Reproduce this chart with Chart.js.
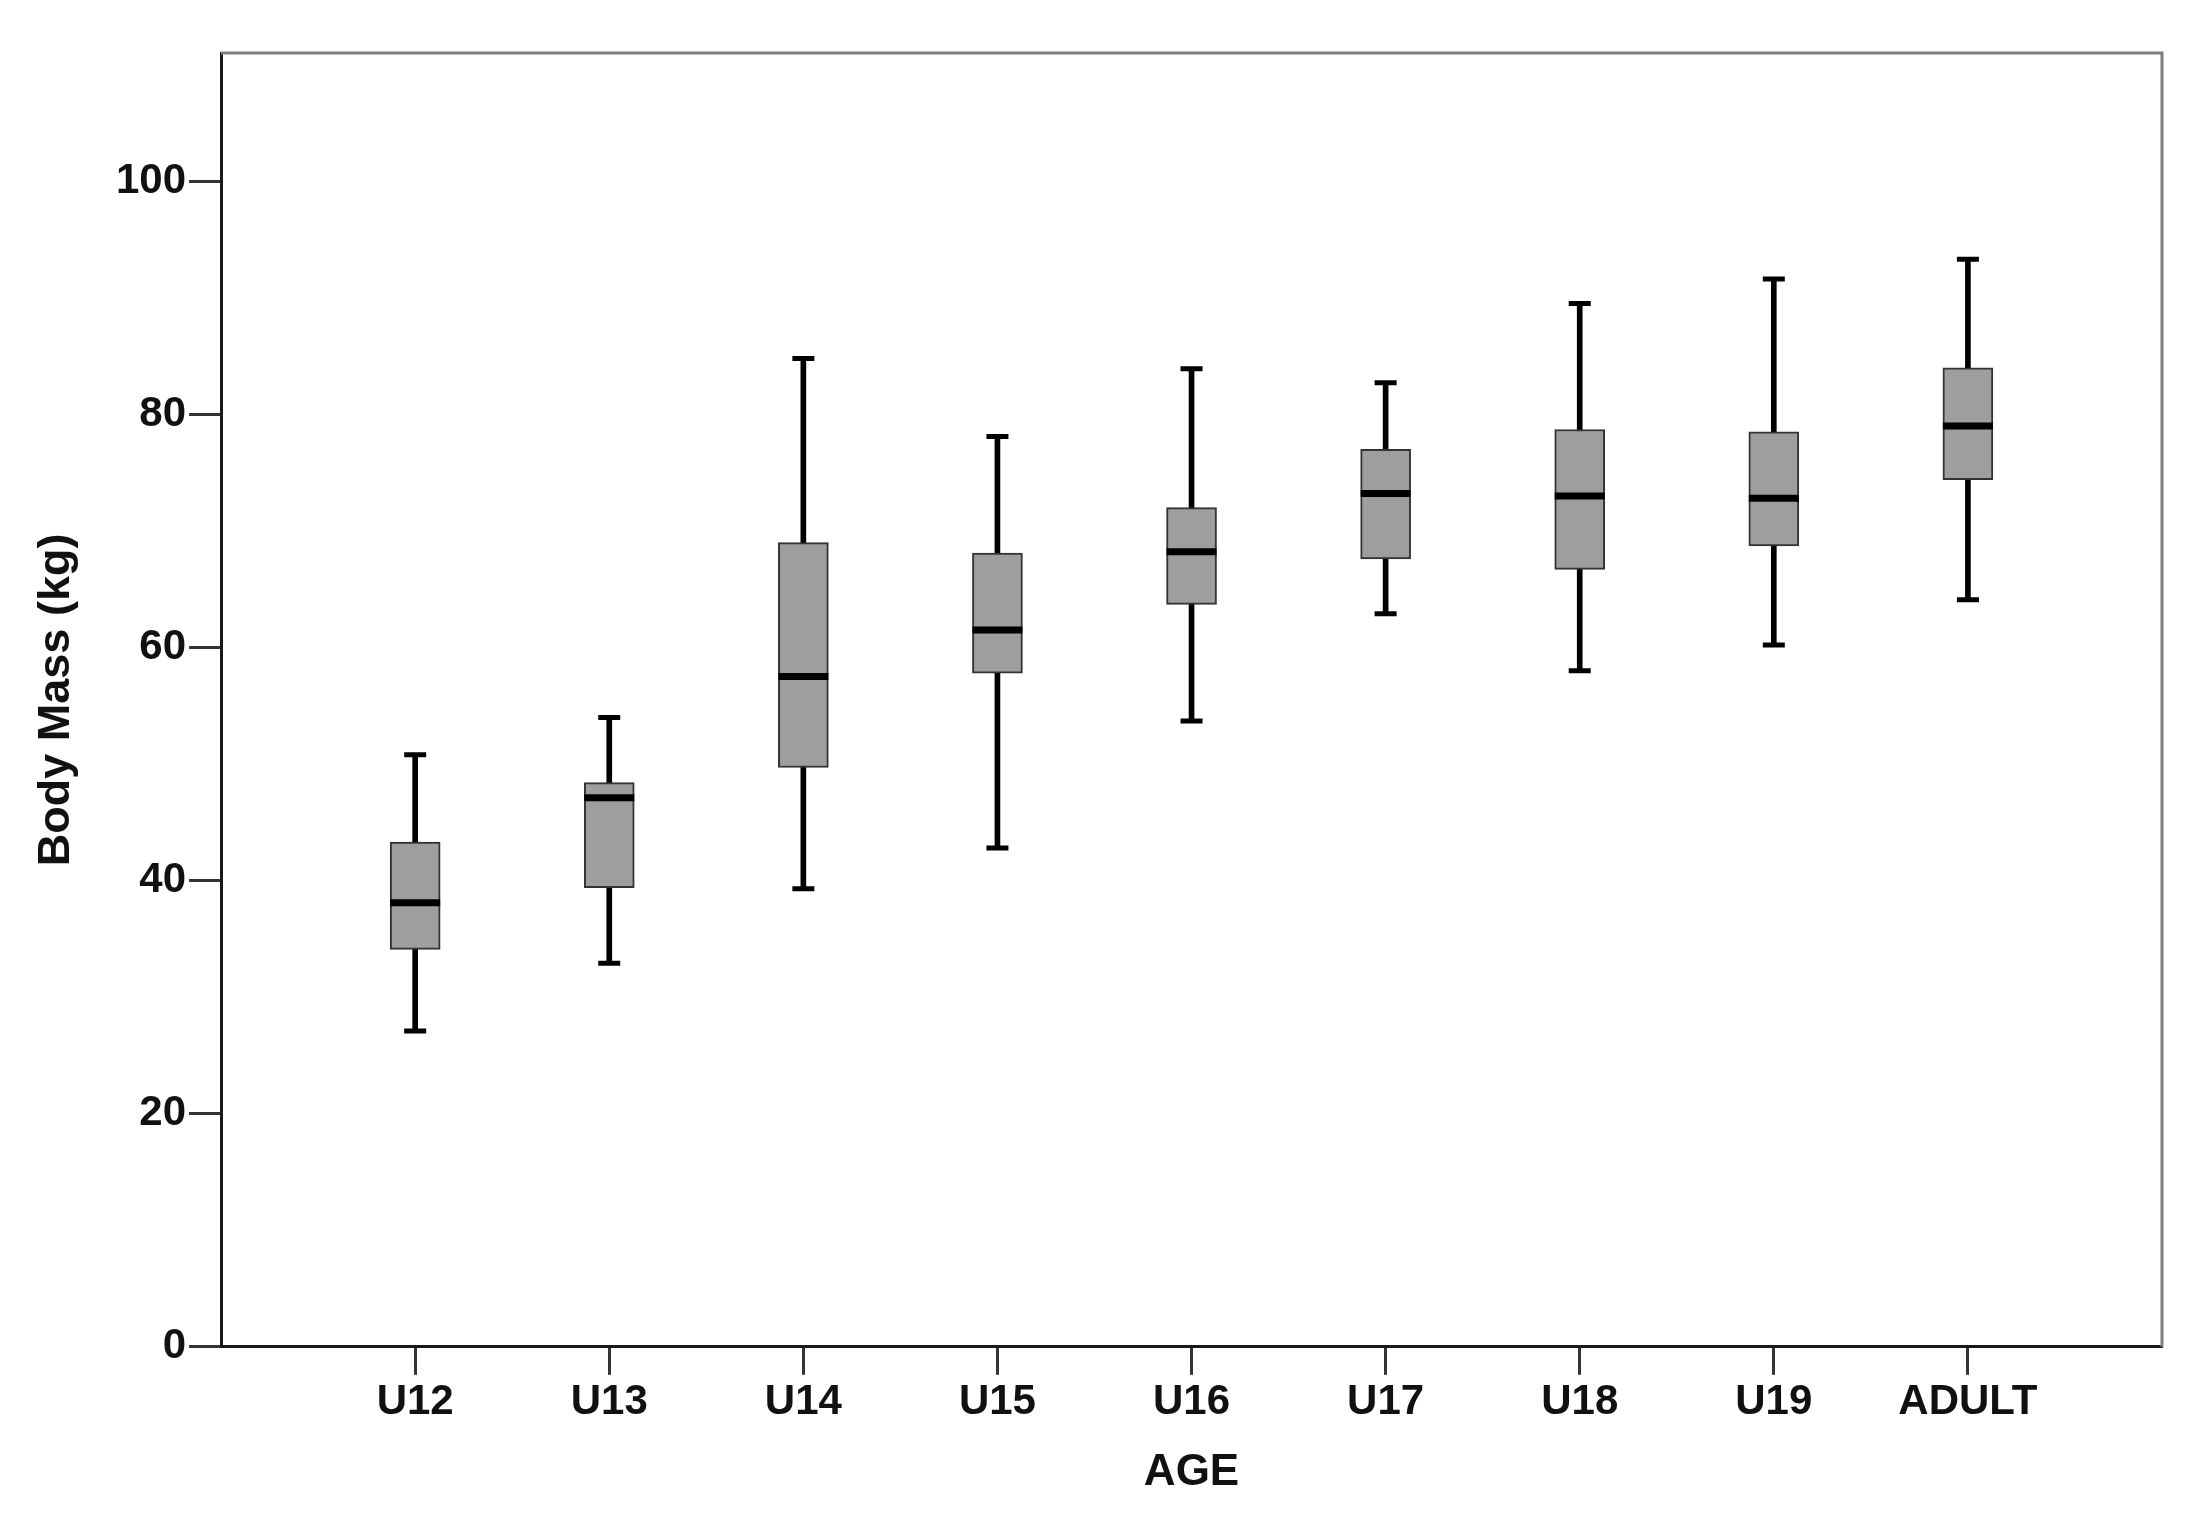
<!DOCTYPE html>
<html>
<head>
<meta charset="utf-8">
<script src="https://cdn.jsdelivr.net/npm/chart.js@4.4.1/dist/chart.umd.min.js"></script>
<style>
  body { margin: 0; background: #fff; }
  #wrap { width: 2204px; height: 1523px; }
</style>
</head>
<body>
<div id="wrap"><canvas id="boxChart"></canvas></div>
<script>
// age groups and five-number summaries (kg)
const categories = ["U12", "U13", "U14", "U15", "U16", "U17", "U18", "U19", "ADULT"];
const whiskerLow = [27.1, 32.9, 39.3, 42.8, 53.7, 62.9, 58.0, 60.2, 64.1];
const q1 = [34.1, 39.4, 49.7, 57.8, 63.7, 67.6, 66.7, 68.7, 74.4];
const median = [38.1, 47.1, 57.5, 61.5, 68.2, 73.2, 73.0, 72.8, 79.0];
const q3 = [43.3, 48.4, 69.0, 68.1, 72.0, 77.0, 78.7, 78.5, 84.0];
const whiskerHigh = [50.8, 54.0, 84.8, 78.1, 83.9, 82.7, 89.5, 91.6, 93.3];
const yTicks = [0, 20, 40, 60, 80, 100];

const font = "'Liberation Sans', Arial, sans-serif";

// top and right edges of the frame are drawn lighter
const framePlugin = {
    id: "frame",
    afterDraw(chart) {
        const { ctx, chartArea } = chart;
        ctx.save();
        ctx.strokeStyle = "#7f7f7f";
        ctx.lineWidth = 3;
        ctx.beginPath();
        ctx.moveTo(chartArea.left, chartArea.top);
        ctx.lineTo(chartArea.right, chartArea.top);
        ctx.lineTo(chartArea.right, chartArea.bottom);
        ctx.stroke();
        ctx.restore();
    }
};

const xs = categories.map((c, i) => i + 1);

new Chart(document.getElementById("boxChart"), {
    type: "bar",
    data: {
        datasets: [
            {
                // median line
                type: "scatter",
                data: xs.map((x, i) => ({ x: x, y: median[i] })),
                pointStyle: "line",
                pointRadius: 25,
                borderColor: "#000",
                borderWidth: 7,
                order: 0
            },
            {
                // box (Q1-Q3)
                data: xs.map((x, i) => ({ x: x, y: [q1[i], q3[i]] })),
                backgroundColor: "#9e9e9e",
                borderColor: "#333",
                borderWidth: 2,
                borderSkipped: false,
                barThickness: 50,
                grouped: false,
                order: 1
            },
            {
                // whisker stem
                data: xs.map((x, i) => ({ x: x, y: [whiskerLow[i], whiskerHigh[i]] })),
                backgroundColor: "#000",
                borderWidth: 0,
                barThickness: 5,
                grouped: false,
                order: 2
            },
            {
                // whisker caps
                type: "scatter",
                data: xs.flatMap((x, i) => [{ x: x, y: whiskerLow[i] }, { x: x, y: whiskerHigh[i] }]),
                pointStyle: "line",
                pointRadius: 11,
                borderColor: "#000",
                borderWidth: 5,
                order: 2
            }
        ]
    },
    options: {
        responsive: true,
        maintainAspectRatio: false,
        animation: false,
        layout: { padding: { top: 53, right: 42, left: 26, bottom: 20 } },
        plugins: {
            legend: { display: false },
            tooltip: { enabled: false }
        },
        scales: {
            x: {
                type: "linear",
                offset: false,
                min: 0,
                max: categories.length + 1,
                afterBuildTicks: axis => {
                    axis.ticks = xs.map(v => ({ value: v }));
                },
                ticks: {
                    autoSkip: false,
                    maxRotation: 0,
                    padding: 2,
                    color: "#111",
                    font: { family: font, size: 42, weight: "bold" },
                    callback: v => categories[v - 1]
                },
                grid: {
                    offset: false,
                    drawOnChartArea: false,
                    tickLength: 28,
                    tickWidth: 3,
                    tickColor: "#333"
                },
                border: { color: "#1a1a1a", width: 3 },
                title: {
                    display: true,
                    text: "AGE",
                    color: "#111",
                    font: { family: font, size: 44, weight: "bold" },
                    padding: { top: 17, bottom: 4 }
                }
            },
            y: {
                min: 0,
                max: 111,
                afterBuildTicks: axis => {
                    axis.ticks = yTicks.map(v => ({ value: v }));
                },
                ticks: {
                    padding: 3,
                    color: "#111",
                    font: { family: font, size: 42, weight: "bold" }
                },
                grid: {
                    drawOnChartArea: false,
                    tickLength: 32,
                    tickWidth: 3,
                    tickColor: "#333"
                },
                border: { color: "#1a1a1a", width: 3 },
                title: {
                    display: true,
                    text: "Body Mass (kg)",
                    color: "#111",
                    font: { family: font, size: 45, weight: "bold" },
                    padding: { top: 4, bottom: 29 }
                }
            }
        }
    },
    plugins: [framePlugin]
});
</script>
</body>
</html>
